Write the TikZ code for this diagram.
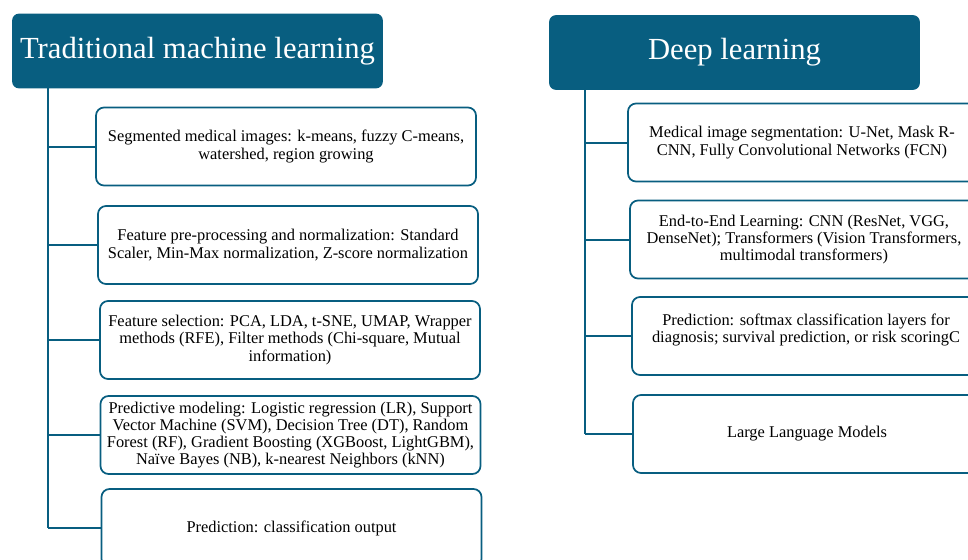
\documentclass[tikz,border=0pt]{standalone}
\usepackage{fontspec}
\setmainfont{Liberation Serif}
\usetikzlibrary{positioning}
\definecolor{hdrblue}{RGB}{8,94,128}

\begin{document}
\begin{tikzpicture}[x=0.75pt, y=-0.75pt,
    header/.style={rectangle, rounded corners=5pt, fill=hdrblue, text=white, minimum width=278pt, minimum height=56pt, inner sep=0pt, font=\fontsize{23}{27}\selectfont},
    item/.style={rectangle, rounded corners=6pt, draw=hdrblue, line width=1.3pt, fill=white, minimum height=58.5pt, inner sep=0pt, align=center, font=\fontsize{12.3}{12.9}\selectfont},
    itemL/.style={item, minimum width=285pt},
    itemR/.style={item, minimum width=261pt},
    branch/.style={draw=hdrblue, line width=1.5pt}]
  \useasboundingbox (0,0) rectangle (968,560);
  \clip (0,0) rectangle (968,560);

  % headers
  \node[header] (tml) at (197.5, 51) {Traditional machine learning};
  \node[header] (dl) at (734.5, 52.5) {Deep learning};

  \coordinate (ltop) at (48, 88);
  \coordinate (rtop) at (585, 90);

  % traditional machine learning
  \node[itemL] (seg) at (286, 146.5) {Segmented medical images: k-means, fuzzy C-means,\\ watershed, region growing};
  \node[itemL] (prep) at (288, 245) {Feature pre-processing and normalization: Standard\\ Scaler, Min-Max normalization, Z-score normalization};
  \node[itemL] (fsel) at (290, 340) {Feature selection: PCA, LDA, t-SNE, UMAP, Wrapper\\ methods (RFE), Filter methods (Chi-square, Mutual\\ information)};
  \node[itemL] (pmod) at (290.5, 435) {Predictive modeling: Logistic regression (LR), Support\\ Vector Machine (SVM), Decision Tree (DT), Random\\ Forest (RF), Gradient Boosting (XGBoost, LightGBM),\\ Na\"ive Bayes (NB), k-nearest Neighbors (kNN)};
  \node[itemL] (pcls) at (291.5, 528) {Prediction: classification output};

  % deep learning
  \node[itemR] (mseg) at (802, 142.5) {Medical image segmentation: U-Net, Mask R-\\ CNN, Fully Convolutional Networks (FCN)};
  \node[itemR] (e2e) at (804, 239.5) {End-to-End Learning: CNN (ResNet, VGG,\\ DenseNet); Transformers (Vision Transformers,\\ multimodal transformers)};
  \node[itemR] (pdl) at (806, 336) {Prediction: softmax classification layers for\\ diagnosis; survival prediction, or risk scoringC\\[-0.9pt]};
  \node[itemR] (llm) at (807, 434) {Large Language Models};

  % trunks
  \draw[branch] (ltop) -- (ltop |- pcls.west);
  \draw[branch] (rtop) -- (rtop |- llm.west);

  % branches
  \foreach \b in {seg, prep, fsel, pmod, pcls}
    \draw[branch] (ltop |- \b.west) -- (\b.west);
  \foreach \b in {mseg, e2e, pdl, llm}
    \draw[branch] (rtop |- \b.west) -- (\b.west);
\end{tikzpicture}
\end{document}
